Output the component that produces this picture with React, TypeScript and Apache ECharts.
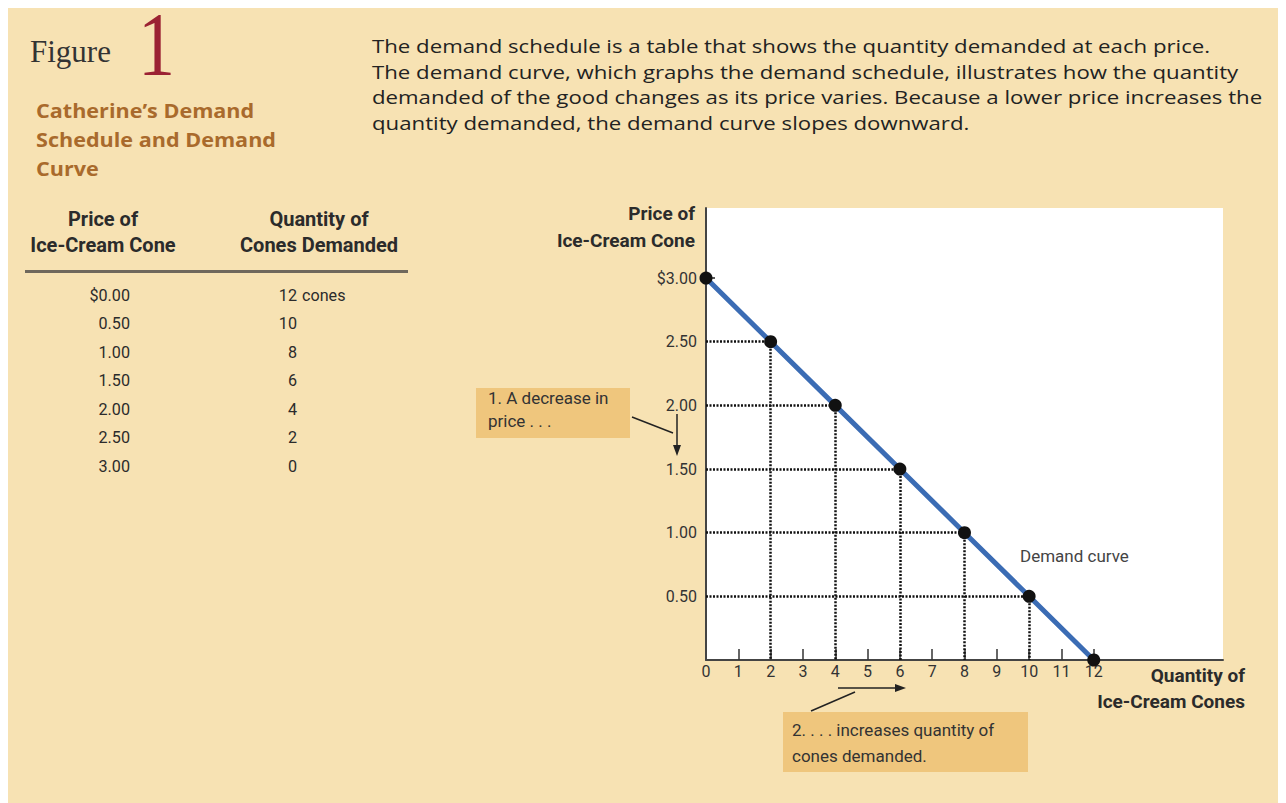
import React, { useEffect, useRef } from "react";
import * as echarts from "echarts";

// ---- data ----
const prices = [0, 0.5, 1, 1.5, 2, 2.5, 3];
const quantities = [12, 10, 8, 6, 4, 2, 0];
const xTickValues = [0, 1, 2, 3, 4, 5, 6, 7, 8, 9, 10, 11, 12];
const yTickValues = [0.5, 1, 1.5, 2, 2.5, 3];
const yTickLabels = ["0.50", "1.00", "1.50", "2.00", "2.50", "$3.00"];
const descriptionLines = [
  "The demand schedule is a table that shows the quantity demanded at each price.",
  "The demand curve, which graphs the demand schedule, illustrates how the quantity",
  "demanded of the good changes as its price varies. Because a lower price increases the",
  "quantity demanded, the demand curve slopes downward.",
];
const titleLines = ["Catherine\u2019s Demand", "Schedule and Demand", "Curve"];

const NARROW = '"Roboto", "Liberation Sans", sans-serif';
const SANS = '"Open Sans", "Noto Sans", sans-serif';
const SERIF = '"Liberation Serif", "DejaVu Serif", serif';
const BG = "#f7e2b3";
const BOX = "#efc67d";
const INK = "#2b2b2b";

export default function App() {
  const ref = useRef<HTMLDivElement>(null);
  useEffect(() => {
    document.body.style.overflow = "hidden";
    const chart = echarts.init(ref.current!, undefined, { renderer: "svg" });
    const points = quantities.map((q, i) => [q, prices[i]]);
    const guides: any[] = [];
    points.forEach(([q, p]) => {
      if (q === 0 || p === 0) return;
      guides.push([{ coord: [0, p] }, { coord: [q, p] }]);
      guides.push([{ coord: [q, p] }, { coord: [q, 0] }]);
    });

    const T = (
      x: number,
      y: number,
      text: string,
      font: string,
      extra: any = {},
      scaleX = 1,
      scaleY = 1
    ) => ({
      type: "text",
      x,
      y,
      scaleX,
      scaleY,
      style: { text, font, fill: INK, verticalAlign: "middle", ...extra },
    });

    const graphics: any[] = [];
    // Title block
    graphics.push(T(22, 43, "Figure", `31px ${SERIF}`, { fill: "#333" }));
    graphics.push(
      T(130, 36, "1", `78px ${SERIF}`, { fill: "#9b2233", lineHeight: 60 }, 0.95, 1.17)
    );
    titleLines.forEach((l, i) =>
      graphics.push(
        T(28, 102 + i * 29, l, `bold 20px ${SANS}`, { fill: "#a96a2c" }, 1.08)
      )
    );
    // Description
    descriptionLines.forEach((l, i) =>
      graphics.push(T(364, 38 + i * 25.5, l, `19px ${SANS}`, { fill: "#222" }, 1.17))
    );
    // Table header
    const H = `bold 20px ${NARROW}`;
    graphics.push(T(95, 211, "Price of", H, { textAlign: "center" }));
    graphics.push(T(95, 237, "Ice-Cream Cone", H, { textAlign: "center" }));
    graphics.push(T(311, 211, "Quantity of", H, { textAlign: "center" }));
    graphics.push(T(311, 237, "Cones Demanded", H, { textAlign: "center" }));
    graphics.push({
      type: "rect",
      shape: { x: 17, y: 262, width: 383, height: 3 },
      style: { fill: "#6f685c" },
    });
    const R = `17px ${NARROW}`;
    prices.forEach((p, i) => {
      const y = 287 + i * 28.5;
      graphics.push(
        T(122, y, (i === 0 ? "$" : "") + p.toFixed(2), R, { textAlign: "right" }, 0.95)
      );
      graphics.push(T(289, y, String(quantities[i]), R, { textAlign: "right" }, 0.95));
      if (i === 0) graphics.push(T(294, y, "cones", R, {}, 0.95));
    });
    // Axis names
    const A = `bold 19px ${NARROW}`;
    graphics.push(T(687, 205, "Price of", A, { textAlign: "right" }));
    graphics.push(T(687, 232, "Ice-Cream Cone", A, { textAlign: "right" }));
    graphics.push(T(1237, 667, "Quantity of", A, { textAlign: "right" }));
    graphics.push(T(1237, 693, "Ice-Cream Cones", A, { textAlign: "right" }));
    // Demand curve label
    graphics.push(T(1012, 548, "Demand curve", `17px ${NARROW}`, { fill: "#444" }));
    // Annotation 1
    const N = `17px ${NARROW}`;
    graphics.push({ type: "rect", shape: { x: 468, y: 380, width: 154, height: 50 }, style: { fill: BOX } });
    graphics.push(T(480, 390, "1. A decrease in", N, { fill: "#333" }));
    graphics.push(T(480, 413, "price . . .", N, { fill: "#333" }));
    graphics.push({ type: "line", shape: { x1: 624, y1: 409, x2: 665, y2: 425 }, style: { stroke: "#222", lineWidth: 1.5 } });
    graphics.push({ type: "line", shape: { x1: 669, y1: 406, x2: 669, y2: 440 }, style: { stroke: "#222", lineWidth: 1.5 } });
    graphics.push({ type: "polygon", shape: { points: [[665, 437], [673, 437], [669, 448]] }, style: { fill: "#222" } });
    // Annotation 2
    graphics.push({ type: "rect", shape: { x: 775, y: 704, width: 245, height: 60 }, style: { fill: BOX } });
    graphics.push(T(784, 722, "2. . . . increases quantity of", N, { fill: "#333" }));
    graphics.push(T(784, 748, "cones demanded.", N, { fill: "#333" }));
    graphics.push({ type: "line", shape: { x1: 803, y1: 703, x2: 847, y2: 684 }, style: { stroke: "#222", lineWidth: 1.5 } });
    graphics.push({ type: "line", shape: { x1: 830, y1: 680, x2: 890, y2: 680 }, style: { stroke: "#222", lineWidth: 1.5 } });
    graphics.push({ type: "polygon", shape: { points: [[887, 676], [887, 684], [898, 680]] }, style: { fill: "#222" } });

    chart.setOption({
      animation: false,
      backgroundColor: BG,
      grid: {
        left: 698,
        top: 200,
        width: 517,
        height: 452,
        show: true,
        backgroundColor: "#ffffff",
        borderWidth: 0,
      },
      xAxis: {
        type: "value",
        min: 0,
        max: 16,
        interval: 1,
        splitLine: { show: false },
        axisLine: { show: true, lineStyle: { color: "#444", width: 2 } },
        axisTick: {
          show: true,
          inside: true,
          length: 11,
          customValues: xTickValues.filter((v) => v > 0),
          lineStyle: { color: "#333", width: 1.5 },
        },
        axisLabel: {
          customValues: xTickValues,
          margin: 3,
          color: "#333",
          fontSize: 16,
          fontFamily: NARROW,
        },
      },
      yAxis: {
        type: "value",
        min: 0,
        max: 3.55,
        interval: 0.5,
        splitLine: { show: false },
        axisLine: { show: true, lineStyle: { color: "#444", width: 2 } },
        axisTick: {
          show: true,
          inside: true,
          length: 9,
          customValues: [3],
          lineStyle: { color: "#222", width: 1.5 },
        },
        axisLabel: {
          customValues: yTickValues,
          formatter: (v: number) => yTickLabels[yTickValues.indexOf(v)] ?? "",
          margin: 9,
          color: "#333",
          fontSize: 16,
          fontFamily: NARROW,
        },
      },
      series: [
        {
          type: "line",
          data: points,
          symbol: "circle",
          symbolSize: 13,
          itemStyle: { color: "#111" },
          lineStyle: { color: "#3b6cb4", width: 5 },
          z: 5,
          markLine: {
            silent: true,
            symbol: ["none", "none"],
            label: { show: false },
            lineStyle: { color: "#111", width: 2.5, type: [2, 1.5], opacity: 1 },
            data: guides,
            z: 1,
          },
        },
      ],
      graphic: graphics,
    });
    return () => chart.dispose();
  }, []);
  return <div ref={ref} style={{ width: 1278, height: 795 }} />;
}
